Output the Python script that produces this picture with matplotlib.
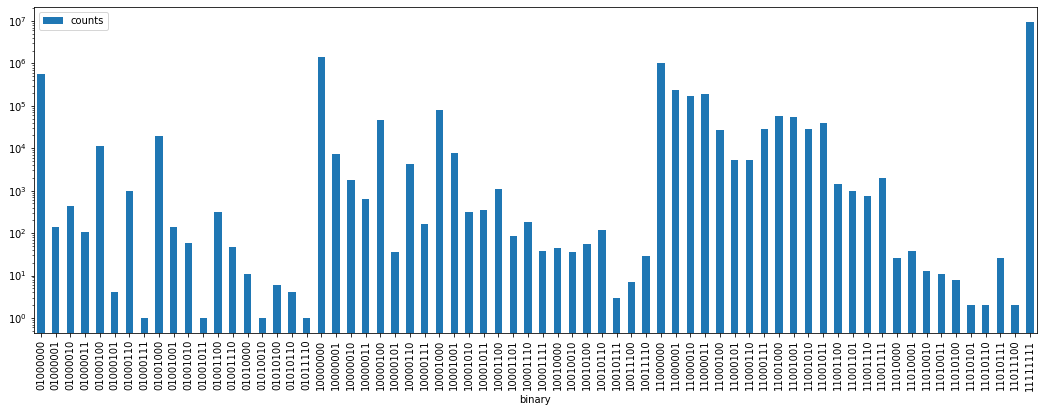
import matplotlib
matplotlib.use("Agg")
import matplotlib.pyplot as plt
import numpy as np

categories = [
    "01000000", "01000001", "01000010", "01000011", "01000100", "01000101", "01000110", "01000111",
    "01001000", "01001001", "01001010", "01001011", "01001100", "01001110", "01010000", "01010010",
    "01010100", "01010110", "01011110",
    "10000000", "10000001", "10000010", "10000011", "10000100", "10000101", "10000110", "10000111",
    "10001000", "10001001", "10001010", "10001011", "10001100", "10001101", "10001110", "10001111",
    "10010000", "10010010", "10010100", "10010110", "10010111", "10011100", "10011110",
    "11000000", "11000001", "11000010", "11000011", "11000100", "11000101", "11000110", "11000111",
    "11001000", "11001001", "11001010", "11001011", "11001100", "11001101", "11001110", "11001111",
    "11010000", "11010001", "11010010", "11010011", "11010100", "11010101", "11010110", "11010111",
    "11011100", "11111111",
]

counts = [
    550000, 140, 440, 107, 11300, 4, 980, 1,
    19500, 140, 59, 1, 316, 48, 11, 1,
    6, 4, 1,
    1400000, 7300, 1800, 640, 46000, 36, 4300, 165,
    80000, 7800, 316, 350, 1100, 86, 185, 38,
    45, 35, 56, 120, 3, 7, 29,
    1000000, 235000, 170000, 190000, 27000, 5300, 5300, 28000,
    57000, 55000, 28000, 40000, 1450, 1000, 760, 2000,
    26, 38, 13, 11, 8, 2, 2, 26,
    2, 9700000,
]

fig = plt.figure(figsize=(1044 / 72, 412 / 72), dpi=72)
ax = fig.add_axes([33.5 / 1044, 79.3 / 412, 1003.8 / 1044, 325.4 / 412])

x = np.arange(len(categories))
ax.bar(x, counts, width=0.5, color="#1f77b4", label="counts")
ax.set_yscale("log")
ax.set_ylim(0.45, 2.1e7)
ax.set_xlim(-0.5, len(categories) - 0.5)
ax.set_xticks(x)
ax.set_xticklabels(categories, rotation=90)
ax.set_xlabel("binary")
ax.legend(loc="upper left")

fig.savefig("out.png", dpi=72)
